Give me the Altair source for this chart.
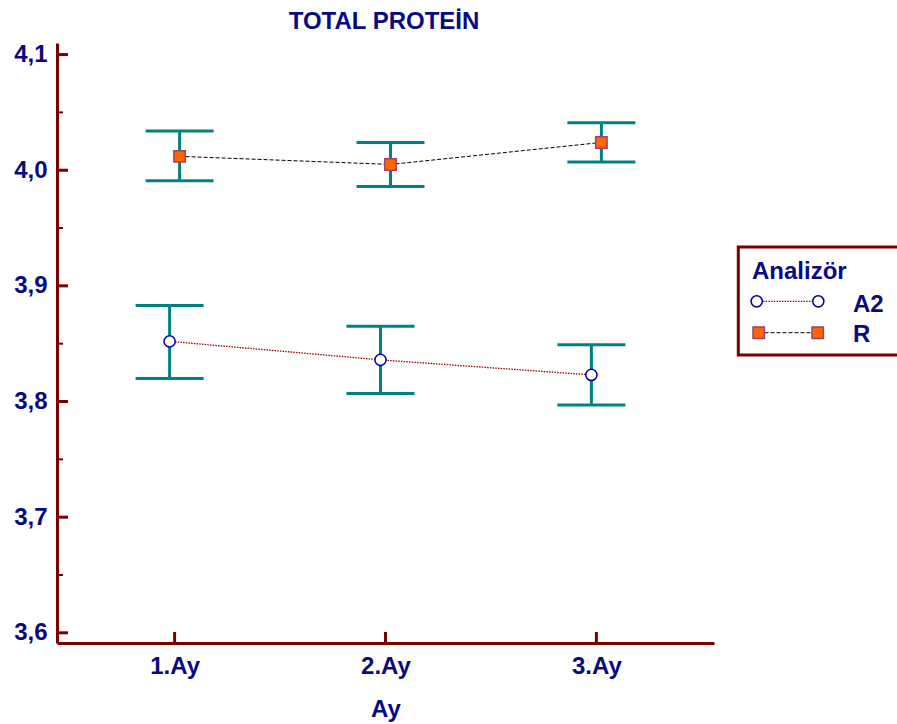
import altair as alt
import pandas as pd

# ---- data ----
months = ["1.Ay", "2.Ay", "3.Ay"]
series_names = ["A2", "R"]
a2_mean = [3.852, 3.836, 3.823]
a2_low = [3.820, 3.807, 3.797]
a2_high = [3.883, 3.865, 3.849]
r_mean = [4.012, 4.005, 4.024]
r_low = [3.991, 3.986, 4.007]
r_high = [4.034, 4.024, 4.041]
major_ticks = [3.6, 3.7, 3.8, 3.9, 4.0, 4.1]
minor_ticks = [3.65, 3.75, 3.85, 3.95, 4.05]
title_text = "TOTAL PROTEİN"
legend_title = "Analizör"

FONT = "Liberation Sans"
NAVY = "#0A0A80"
AXIS = "#7A0000"
TEAL = "#008080"
W, H = 657, 600


def sdf(name, mean, low, high):
    return pd.DataFrame({"month": months, "series": name, "mean": mean, "low": low, "high": high})


df_a2 = sdf(series_names[0], a2_mean, a2_low, a2_high)
df_r = sdf(series_names[1], r_mean, r_low, r_high)

x_scale = alt.Scale(domain=months, type="point", padding=0.5577)
y_scale = alt.Scale(domain=[3.5912, 4.1100], nice=False, zero=False)

x_axis = alt.Axis(title="Ay", ticks=False, tickSize=0, domainColor=AXIS, domainWidth=3,
                  labelColor=NAVY, labelFont=FONT, labelFontSize=24, labelFontWeight="bold",
                  labelPadding=11, labelAngle=0, titleColor=NAVY, titleFont=FONT,
                  titleFontSize=24, titleFontWeight="bold", titlePadding=19, grid=False)
y_axis = alt.Axis(values=major_ticks, title=None, ticks=False, tickSize=0,
                  labelExpr="replace(format(datum.value, '.1f'), '.', ',')",
                  domainColor=AXIS, domainWidth=3, labelColor=NAVY, labelFont=FONT,
                  labelFontSize=24, labelFontWeight="bold", labelPadding=10, grid=False)


def X():
    return alt.X("month:N", scale=x_scale, sort=months, axis=x_axis)


def Y(field):
    return alt.Y(f"{field}:Q", scale=y_scale, axis=y_axis)


def series_layers(df, off, shape, size, fill, stroke, line_color, dash, lw):
    rule = alt.Chart(df).mark_rule(color=TEAL, strokeWidth=3).encode(
        x=X(), y=Y("low"), y2="high:Q", xOffset=alt.value(off))
    cap_lo = alt.Chart(df).mark_tick(color=TEAL, size=68, thickness=3, orient="horizontal", opacity=1).encode(
        x=X(), y=Y("low"), xOffset=alt.value(off))
    cap_hi = alt.Chart(df).mark_tick(color=TEAL, size=68, thickness=3, orient="horizontal", opacity=1).encode(
        x=X(), y=Y("high"), xOffset=alt.value(off))
    line = alt.Chart(df).mark_line(color=line_color, strokeWidth=lw, strokeDash=dash).encode(
        x=X(), y=Y("mean"), xOffset=alt.value(off))
    pts = alt.Chart(df).mark_point(shape=shape, size=size, filled=False, fill=fill, stroke=stroke,
                                   strokeWidth=1.5, opacity=1, fillOpacity=1).encode(
        x=X(), y=Y("mean"), xOffset=alt.value(off))
    return [rule, cap_lo, cap_hi, line, pts]


layers = []
layers += series_layers(df_a2, -5, "circle", 125, "white", "#000099", "#990000", [1.5, 1.2], 1.3)
layers += series_layers(df_r, 5, "square", 130, "#FF6600", "#A04070", "#000000", [4, 2], 1)

# inward ticks
maj_df = pd.DataFrame({"v": major_ticks})
min_df = pd.DataFrame({"v": minor_ticks})
x_tick_df = pd.DataFrame({"month": months})
layers.append(alt.Chart(maj_df).mark_rule(color=AXIS, strokeWidth=3).encode(
    y=alt.Y("v:Q", scale=y_scale, axis=y_axis), x=alt.value(0), x2=alt.value(11)))
layers.append(alt.Chart(min_df).mark_rule(color=AXIS, strokeWidth=2).encode(
    y=alt.Y("v:Q", scale=y_scale, axis=y_axis), x=alt.value(0), x2=alt.value(6)))
layers.append(alt.Chart(x_tick_df).mark_rule(color=AXIS, strokeWidth=3).encode(
    x=X(), y=alt.value(H), y2=alt.value(H - 11)))

# chart title as text
title_df = pd.DataFrame({"t": [title_text]})
layers.append(alt.Chart(title_df).mark_text(align="center", baseline="alphabetic", font=FONT, fontSize=24,
                                            fontWeight="bold", color=NAVY).encode(
    text="t:N", x=alt.value(327), y=alt.value(-14)))

# manual legend
leg_df = pd.DataFrame({"t": [legend_title]})
a2_df = pd.DataFrame({"series": [series_names[0]]})
r_df = pd.DataFrame({"series": [series_names[1]]})
layers.append(alt.Chart(leg_df).mark_rect(fill="white", stroke=AXIS, strokeWidth=3).encode(
    x=alt.value(681.3), x2=alt.value(850), y=alt.value(204), y2=alt.value(312)))
layers.append(alt.Chart(leg_df).mark_text(align="left", baseline="alphabetic", font=FONT, fontSize=24,
                                          fontWeight="bold", color=NAVY).encode(
    text="t:N", x=alt.value(695), y=alt.value(236)))
# A2 row
layers.append(alt.Chart(a2_df).mark_rule(color="#990000", strokeWidth=1.3, strokeDash=[1.5, 1.2]).encode(
    x=alt.value(706), x2=alt.value(755), y=alt.value(258.3)))
for xv in (699.7, 761.3):
    layers.append(alt.Chart(a2_df).mark_point(shape="circle", size=125, fill="white", stroke="#000099",
                                              strokeWidth=1.5, opacity=1, fillOpacity=1).encode(
        x=alt.value(xv), y=alt.value(258.3)))
layers.append(alt.Chart(a2_df).mark_text(align="left", baseline="alphabetic", font=FONT, fontSize=24,
                                         fontWeight="bold", color=NAVY).encode(
    text="series:N", x=alt.value(796), y=alt.value(268.5)))
# R row
layers.append(alt.Chart(r_df).mark_rule(color="#000000", strokeWidth=1, strokeDash=[4, 2]).encode(
    x=alt.value(707.5), x2=alt.value(755), y=alt.value(289.7)))
for xv in (701.7, 760.7):
    layers.append(alt.Chart(r_df).mark_point(shape="square", size=130, fill="#FF6600", stroke="#A04070",
                                             strokeWidth=1.5, opacity=1, fillOpacity=1).encode(
        x=alt.value(xv), y=alt.value(289.7)))
layers.append(alt.Chart(r_df).mark_text(align="left", baseline="alphabetic", font=FONT, fontSize=24,
                                        fontWeight="bold", color=NAVY).encode(
    text="series:N", x=alt.value(796), y=alt.value(298.7)))

chart = alt.layer(*layers).properties(
    width=W, height=H,
    autosize=alt.AutoSizeParams(type="none"),
    padding={"left": 57, "top": 43, "right": 897 - 57 - W, "bottom": 724 - 43 - H},
    background="white",
).configure_view(stroke=None)

chart.save("out.html", embed_options={"renderer": "svg", "actions": False})
